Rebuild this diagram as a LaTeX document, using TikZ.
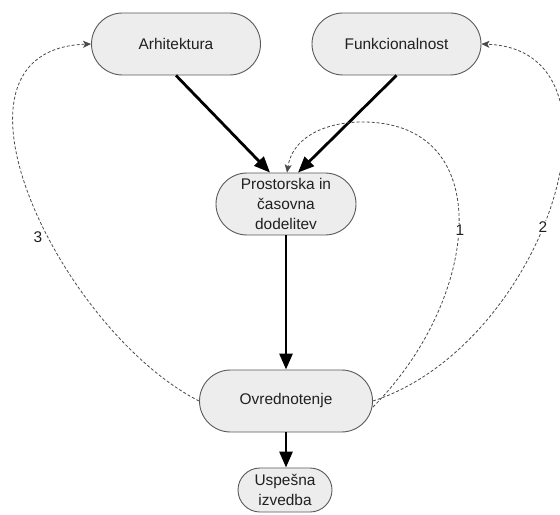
\documentclass[tikz,border=0pt]{standalone}
\usepackage{fontspec}
\setmainfont{Liberation Sans}
\usetikzlibrary{shapes.misc,arrows.meta}
\definecolor{boxfill}{HTML}{EDEDED}
\definecolor{boxline}{HTML}{5A5A5A}
\definecolor{dashline}{HTML}{4A4A4A}
\definecolor{txt}{HTML}{202020}
\begin{document}
\begin{tikzpicture}[x=1bp,y=-1bp,
  stepbox/.style={rounded rectangle, draw=boxline, line width=0.9bp, fill=boxfill,
    align=center, inner sep=2bp, text=txt,
    font=\fontsize{15.5}{20}\selectfont},
  flow/.style={line width=2.8bp, -{Triangle[length=16bp,width=13bp]}},
  loop/.style={draw=dashline, line width=0.8bp, dash pattern=on 3bp off 2bp,
    -{Stealth[length=8bp,width=7bp,inset=2bp]}},
  looplabel/.style={fill=white, inner sep=1bp, text=txt,
    font=\fontsize{15.5}{18}\selectfont}]
\useasboundingbox[fill=white] (0,0) rectangle (560,515);

% process steps
\node[stepbox, minimum width=173bp, minimum height=62bp] (arh) at (176,44) {Arhitektura};
\node[stepbox, minimum width=173bp, minimum height=62bp] (fun) at (396.5,44) {Funkcionalnost};
\node[stepbox, minimum width=144bp, minimum height=62bp] (pro) at (286,204) {Prostorska in\\časovna\\dodelitev};
\node[stepbox, minimum width=177bp, minimum height=62bp] (ovr) at (286,401) {Ovrednotenje};
\node[stepbox, minimum width=96bp, minimum height=44bp, inner sep=1bp] (usp) at (285,490) {Uspešna\\izvedba};

% main flow
\draw[flow] (arh.south) -- ([xshift=-16bp]pro.north);
\draw[flow] (fun.south) -- ([xshift=12bp]pro.north);
\draw[flow] (pro.south) -- (ovr.north);
\draw[flow] (ovr.south) -- (ovr.south |- usp.north);

% feedback loops
\coordinate (top1) at (360,122);
\draw[loop] ([yshift=-6bp]ovr.east) .. controls (480,300) and (500,120) .. (top1)
  .. controls (320,123) and (292,140) .. ([xshift=1bp]pro.north);
\draw[loop] (ovr.east) .. controls (545,345) and (640,50) .. (fun.east);
\draw[loop] (ovr.west) .. controls (60,330) and (-75,50) .. (arh.west);

% loop numbers
\node[looplabel] (n1) at (460,230) {1};
\node[looplabel] (n2) at (543,227) {2};
\node[looplabel] (n3) at (38,237) {3};
\end{tikzpicture}
\end{document}
